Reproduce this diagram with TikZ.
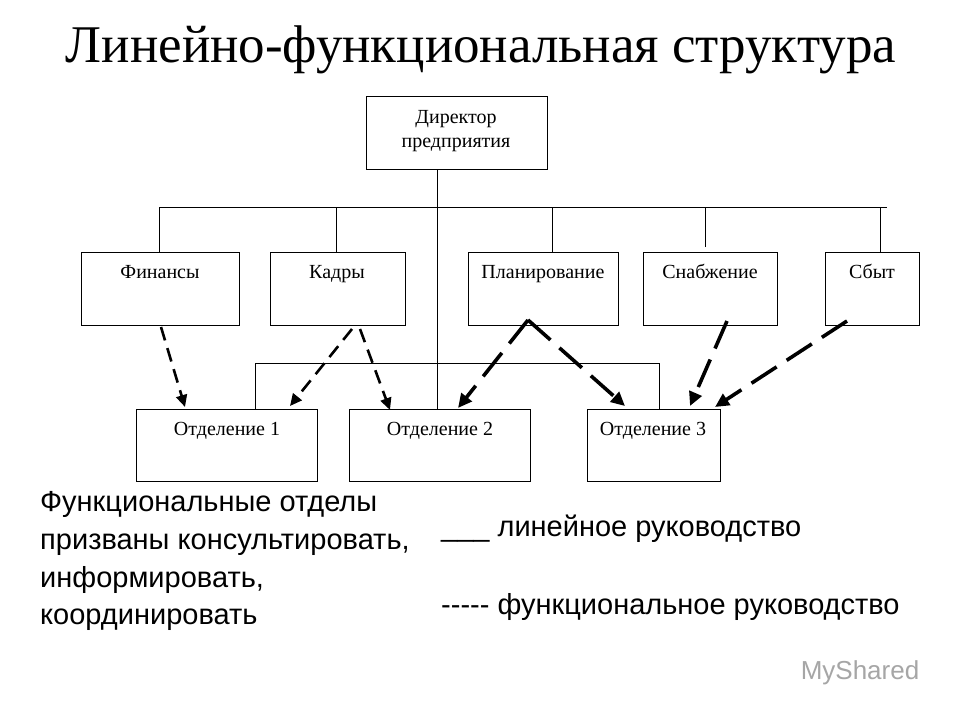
\documentclass[tikz,border=0pt]{standalone}
\usepackage{fontspec}
\setmainfont{Liberation Serif}
\newfontfamily\sans{Liberation Sans}
\usetikzlibrary{arrows.meta}
\begin{document}
\begin{tikzpicture}[x=1pt,y=-1pt,
 box/.style={draw,line width=0.8pt,inner sep=0pt,anchor=north west},
 lbl/.style={font=\fontsize{20}{24}\selectfont,anchor=base,inner sep=0pt},
 ln/.style={line width=0.8pt},
 fa/.style={line width=2.6pt,dash pattern=on 14pt off 8pt,-{Triangle[length=12pt,width=11pt]}},
 fb/.style={line width=3.6pt,dash pattern=on 30pt off 12pt,-{Triangle[length=14pt,width=13pt]}},
 txt/.style={font=\sans\fontsize{29}{30}\selectfont,anchor=base west,inner sep=0pt}]
\useasboundingbox[fill=white] (0,0) rectangle (960,720);
\node[font=\fontsize{53}{56}\selectfont,anchor=base,inner sep=0pt] (title) at (481,62) {Линейно-функциональная структура};
\node[box,minimum width=181pt,minimum height=73pt] (dir) at (366,96) {};
\node[lbl] at (456,123) {Директор};
\node[lbl] at (456,147) {предприятия};
\node[box,minimum width=158pt,minimum height=73pt] (fin) at (81,252) {};
\node[lbl] at (160,278) {Финансы};
\node[box,minimum width=135pt,minimum height=73pt] (kad) at (270,252) {};
\node[lbl] at (337,278) {Кадры};
\node[box,minimum width=150pt,minimum height=73pt] (pla) at (468,252) {};
\node[lbl] at (543,278) {Планирование};
\node[box,minimum width=134pt,minimum height=73pt] (sna) at (643,252) {};
\node[lbl] at (710,278) {Снабжение};
\node[box,minimum width=94pt,minimum height=73pt] (sby) at (825,252) {};
\node[lbl] at (872,278) {Сбыт};
\node[box,minimum width=181pt,minimum height=72pt] (o1) at (136,409) {};
\node[lbl] at (227,435) {Отделение 1};
\node[box,minimum width=181pt,minimum height=72pt] (o2) at (349,409) {};
\node[lbl] at (440,435) {Отделение 2};
\node[box,minimum width=133pt,minimum height=72pt] (o3) at (587,409) {};
\node[lbl] at (653,435) {Отделение 3};
% line management
\draw[ln] (437,169) -- (437,409);
\draw[ln] (159,252) |- (887,207);
\draw[ln] (336,252) -- (336,208);
\draw[ln] (552,252) -- (552,208);
\draw[ln] (705,247) -- (705,208);
\draw[ln] (880,252) -- (880,207);
\draw[ln] (255,409) |- (659,363) -- (659,409);
% functional arrows
\draw[fa] (161,327) -- (185,407);
\draw[fa] (352,329) -- (290,406);
\draw[fa] (360,329) -- (390,410);
\draw[fb] (528,320) -- (458,408);
\draw[fb] (528,320) -- (625,406);
\draw[fb] (727,321) -- (690,406);
\draw[fb] (847,321) -- (715,407);
% legend texts
\node[txt] (t1) at (40,511) {Функциональные отделы};
\node[txt] (t2) at (40,549) {призваны консультировать,};
\node[txt] (t3) at (40,587) {информировать,};
\node[txt] (t4) at (40,624) {координировать};
\node[txt] (l1) at (441,536) {\_\_\_ линейное руководство};
\node[txt] (l2) at (441,614) {----- функциональное руководство};
\node[font=\sans\fontsize{26}{28}\selectfont,text=gray!70] (wm) at (860,673) {MyShared};
\end{tikzpicture}
\end{document}
